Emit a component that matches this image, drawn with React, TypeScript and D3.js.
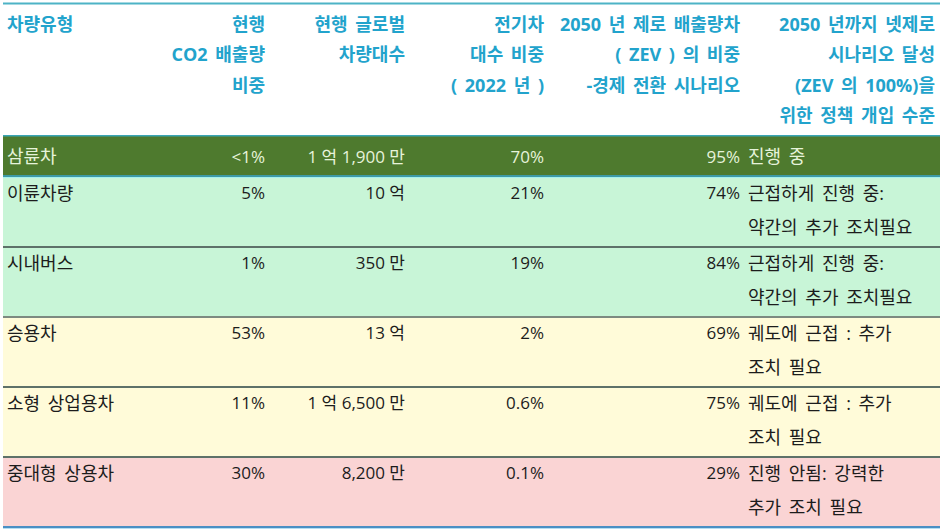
import React from "react";
import * as d3 from "d3";

const headerCol1 = ["차량유형"];
const headerCol2 = ["현행", "CO2 배출량", "비중"];
const headerCol3 = ["현행 글로벌", "차량대수"];
const headerCol4 = ["전기차", "대수 비중", "( 2022 년 )"];
const headerCol5 = ["2050 년 제로 배출량차", "( ZEV ) 의 비중", "-경제 전환 시나리오"];
const headerCol6 = ["2050 년까지 넷제로", "시나리오 달성", "(ZEV 의 100%)을", "위한 정책 개입 수준"];

const vehicleTypes = ["삼륜차", "이륜차량", "시내버스", "승용차", "소형 상업용차", "중대형 상용차"];
const co2Share = ["<1%", "5%", "1%", "53%", "11%", "30%"];
const fleetSize = ["1 억 1,900 만", "10 억", "350 만", "13 억", "1 억 6,500 만", "8,200 만"];
const evShare2022 = ["70%", "21%", "19%", "2%", "0.6%", "0.1%"];
const zevShare2050 = ["95%", "74%", "84%", "69%", "75%", "29%"];
const policyLevel = [
  ["진행 중"],
  ["근접하게 진행 중:", "약간의 추가 조치필요"],
  ["근접하게 진행 중:", "약간의 추가 조치필요"],
  ["궤도에 근접 : 추가", "조치 필요"],
  ["궤도에 근접 : 추가", "조치 필요"],
  ["진행 안됨: 강력한", "추가 조치 필요"],
];
const rowStatus = ["done", "close", "close", "near", "near", "off"];

const W = 946;
const H = 532;
const FONT = "'Open Sans', 'Noto Sans CJK KR', sans-serif";

export default function App() {
  const left = 3;
  const right = 940;
  const headerTop = 3.5;
  const bodyTop = 135;
  const rowHeights = vehicleTypes.map((_, i) => (i === 0 ? 42 : 70));
  const ends = Array.from(d3.cumsum(rowHeights));
  const rowY = ends.map((e, i) => bodyTop + e - rowHeights[i]);

  const fill = d3
    .scaleOrdinal<string, string>()
    .domain(["done", "close", "near", "off"])
    .range(["#4e7a2e", "#c8f5d7", "#fffbd9", "#fad4d4"]);

  const colX = { c1: 7, c2: 265, c3: 405, c4: 544, c5: 740, c6h: 935, c6d: 748 };

  const headerLineY = d3.scaleLinear().domain([0, 1]).range([23.5, 54]);
  const headers: [string[], number, string][] = [
    [headerCol1, colX.c1, "start"],
    [headerCol2, colX.c2, "end"],
    [headerCol3, colX.c3, "end"],
    [headerCol4, colX.c4, "end"],
    [headerCol5, colX.c5, "end"],
    [headerCol6, colX.c6h, "end"],
  ];

  const headColor = "#22a3cc";
  const FS = 18;

  return (
    <svg
      width={W}
      height={H}
      style={{ position: "absolute", left: 0, top: 0, background: "#fff" }}
      fontFamily={FONT}
    >
      <rect x={0} y={0} width={W} height={H} fill="#ffffff" />
      <line x1={left} x2={right} y1={headerTop} y2={headerTop} stroke="#4db3c6" strokeWidth={2} />
      {headers.map(([lines, x, anchor], ci) => (
        <g key={"h" + ci}>
          {lines.map((t, li) => (
            <text
              key={li}
              x={x}
              y={headerLineY(li)}
              textAnchor={anchor}
              dominantBaseline="central"
              fontSize={FS}
              fontWeight={700}
              fill={headColor}
              wordSpacing={3}
            >
              {t}
            </text>
          ))}
        </g>
      ))}
      {vehicleTypes.map((v, i) => {
        const y0 = rowY[i];
        const h = rowHeights[i];
        const first = i === 0;
        const c1y = first ? y0 + h / 2 : y0 + 15.5;
        const color = first ? "#e6f3da" : "#1c1c1c";
        const cells: [string, number, string][] = [
          [v, colX.c1, "start"],
          [co2Share[i], colX.c2, "end"],
          [fleetSize[i], colX.c3, "end"],
          [evShare2022[i], colX.c4, "end"],
          [zevShare2050[i], colX.c5, "end"],
        ];
        return (
          <g key={"r" + i}>
            <rect x={left} y={y0} width={right - left} height={h} fill={fill(rowStatus[i])} />
            {cells.map(([t, x, a], k) => (
              <text
                key={k}
                x={x}
                y={c1y}
                textAnchor={a}
                dominantBaseline="central"
                fontSize={k === 0 ? FS : 17}
                fill={color}
                wordSpacing={k === 0 ? 3 : 0}
              >
                {t}
              </text>
            ))}
            {policyLevel[i].map((t, li) => (
              <text
                key={"p" + li}
                x={colX.c6d}
                y={c1y + li * 34.5}
                textAnchor="start"
                dominantBaseline="central"
                fontSize={FS}
                fill={color}
                wordSpacing={3}
              >
                {t}
              </text>
            ))}
          </g>
        );
      })}
      <line x1={left} x2={right} y1={bodyTop + 0.75} y2={bodyTop + 0.75} stroke="#3aa5b5" strokeWidth={1.5} />
      <line x1={left} x2={right} y1={rowY[1] - 1} y2={rowY[1] - 1} stroke="#3e9aa6" strokeWidth={2} />
      <line x1={left} x2={right} y1={rowY[1] + 0.5} y2={rowY[1] + 0.5} stroke="#a4f0ee" strokeWidth={1} />
      {rowY.slice(2).map((y, i) => (
        <line key={"s" + i} x1={left} x2={right} y1={y} y2={y} stroke={i === 1 ? "#7d8a80" : "#5e7169"} strokeWidth={2} />
      ))}
      <line x1={left} x2={right} y1={ends[ends.length - 1] + bodyTop} y2={ends[ends.length - 1] + bodyTop} stroke="#4a8fc4" strokeWidth={2} />
      <line x1={left} x2={right} y1={ends[ends.length - 1] + bodyTop + 1.5} y2={ends[ends.length - 1] + bodyTop + 1.5} stroke="#b5def2" strokeWidth={1} />
    </svg>
  );
}
